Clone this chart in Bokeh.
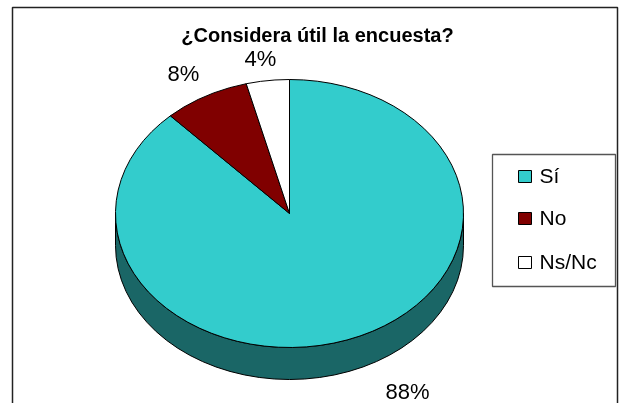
import numpy as np
from bokeh.plotting import figure
from bokeh.models import Range1d, Label
from bokeh.embed import file_html
from bokeh.resources import INLINE

title = "¿Considera útil la encuesta?"
categories = ["Sí", "No", "Ns/Nc"]
shares = [88, 8, 4]
colors = ["#33CCCC", "#800000", "#FFFFFF"]
side_color = "#1A6666"
pct_labels = ["88%", "8%", "4%"]

W, H = 623, 403
p = figure(width=W, height=H, output_backend="svg", toolbar_location=None,
           x_range=Range1d(0, W), y_range=Range1d(H, 0),
           min_border=0, outline_line_color=None, background_fill_color="white",
           border_fill_color="white")
p.axis.visible = False
p.grid.visible = False
p.styles = {"position": "fixed", "left": "0px", "top": "0px"}

# chart frame
p.line([12, 12, 617, 617], [H + 5, 7, 7, H + 5], line_color="#222222", line_width=1.5)

cx, cy, rx, ry, depth = 289, 213, 174, 134, 32

def pt(t):
    return cx + rx * np.sin(t), cy - ry * np.cos(t)

# side wall
t = np.linspace(np.pi / 2, 3 * np.pi / 2, 37)
xt, yt = pt(t)
p.patch(np.r_[xt, xt[::-1]], np.r_[yt + depth, yt[::-1]], fill_color=side_color, line_color="black", line_width=1)

# top slices
edges = np.r_[0, np.cumsum(shares)] / sum(shares) * 2 * np.pi
for i, c in enumerate(colors):
    t = np.linspace(edges[i], edges[i + 1], max(4, int(shares[i] * 0.8)))
    xs, ys = pt(t)
    p.patch(np.r_[cx, xs], np.r_[cy, ys], fill_color=c, line_color="black", line_width=1)

# percentage labels
for txt, x, y in zip(pct_labels, [385, 167, 244], [390.5, 73, 58]):
    p.add_layout(Label(x=x, y=y, text=txt, text_font="Liberation Sans", text_font_size="22px",
                       text_baseline="middle", text_align="left", text_color="black"))

p.add_layout(Label(x=317, y=34, text=title, text_font="Liberation Sans", text_font_size="20px",
                   text_font_style="bold", text_align="center", text_baseline="middle", text_color="black"))

# legend
p.quad(left=[492], right=[615], top=[154], bottom=[286], fill_color="white", line_color="#555555", line_width=1.3)
sy = [176, 218, 262]
p.quad(left=[518] * 3, right=[531] * 3, top=[s - 6 for s in sy], bottom=[s + 6 for s in sy],
       fill_color=colors, line_color="black", line_width=1)
for c, s in zip(categories, sy):
    p.add_layout(Label(x=539, y=s - 1, text=c, text_font="Liberation Sans", text_font_size="21px",
                       text_baseline="middle", text_color="black"))

open("out.html", "w").write(file_html(p, INLINE))
